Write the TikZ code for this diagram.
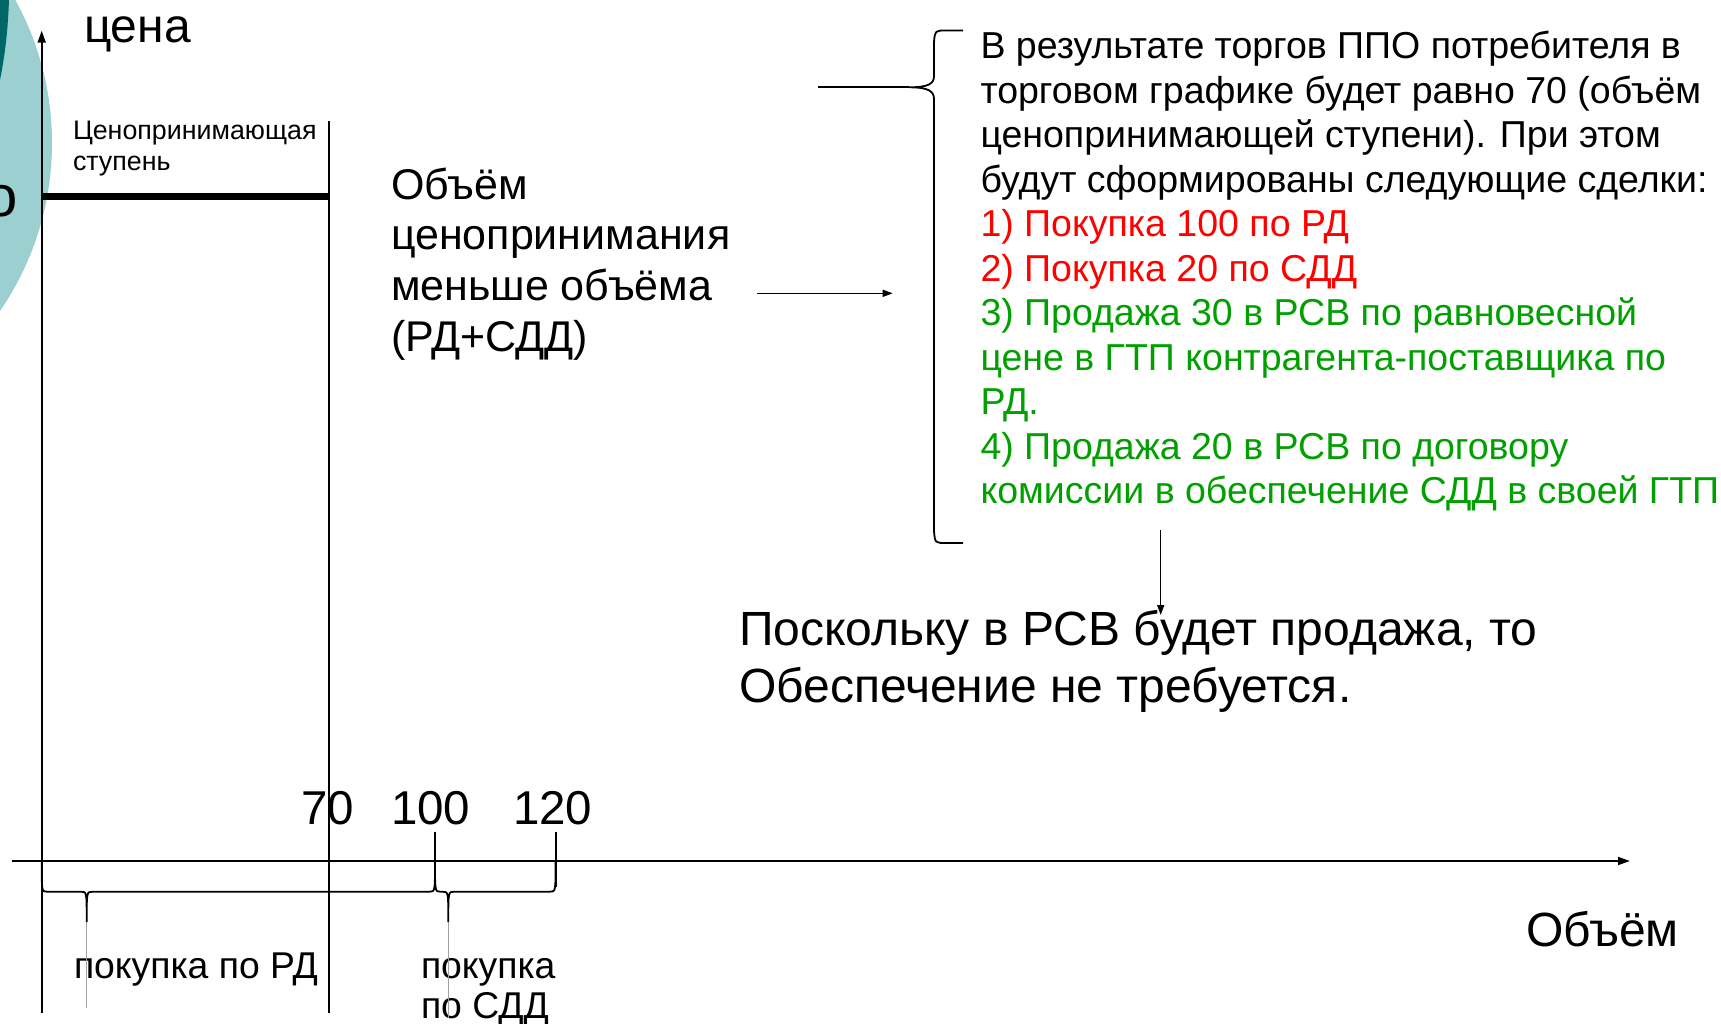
\documentclass[tikz,border=0pt]{standalone}
\usepackage{fontspec}
\setmainfont{Liberation Sans}
\usetikzlibrary{arrows.meta}
\definecolor{tealL}{RGB}{156,207,207}
\definecolor{tealD}{RGB}{0,102,102}
\definecolor{redT}{RGB}{255,0,0}
\definecolor{greenT}{RGB}{0,160,0}
\definecolor{tipgray}{RGB}{160,160,160}
\newcommand\FS[2]{\fontsize{#1}{#2}\selectfont}
\begin{document}
\begin{tikzpicture}[x=1pt,y=-1pt,
  txt/.style={anchor=base west,inner sep=0pt,outer sep=0pt},
  rule/.style={line width=1.8pt,black},
  arr/.style={-{Triangle[length=10pt,width=7pt]}},
  axarr/.style={-{Triangle[length=12pt,width=8pt]}},
  brace/.style={line width=1.8pt,line join=round},
  tipline/.style={line width=1.1pt,tipgray}]
\useasboundingbox (0,0) rectangle (1721,1023);
\fill[white] (0,0) rectangle (1721,1023);
% decorative circles at the left edge
\begin{scope}
\clip (0,0) rectangle (1721,1023);
\fill[tealL] (-245,143) circle[radius=297];
\fill[tealD] (0,-1) -- (9,-1) .. controls (8,30) and (5,55) .. (0,80) -- cycle;
\end{scope}
% coordinates
\coordinate (yb) at (41.7,1012.7);
\coordinate (yt) at (41.7,30.7);
\coordinate (xl) at (11.7,861);
\coordinate (xr) at (1630,861);
\coordinate (stepL) at (41.7,196.3);
\coordinate (stepR) at (329,196.3);
\coordinate (v70t) at (329,121);
\coordinate (v70b) at (329,1012.7);
\coordinate (t100t) at (435,831.7);
\coordinate (t100b) at (435,861);
\coordinate (t120t) at (555.6,831.7);
\coordinate (t120b) at (555.6,887);
\coordinate (tipA) at (86.7,921.7);
\coordinate (tipAe) at (86.7,1008);
\coordinate (tipB) at (448.3,921.7);
\coordinate (tipBe) at (448.3,1018);
\coordinate (cusp) at (909,87.3);
\coordinate (lineL) at (818,87.3);
\coordinate (a1s) at (757,293.3);
\coordinate (a1e) at (892.7,293.3);
\coordinate (a2s) at (1160.7,530);
\coordinate (a2e) at (1160.7,615);
% texts
\node[txt] (cena) at (84,42.5) {\FS{48}{56}цена};
\node[txt,anchor=base east] (oleft) at (17.5,216) {\FS{58}{70}о};
\node[txt] (stuplbl) at (73,139.5) {\FS{26.8}{30.5}\vtop{\hbox{Ценопринимающая}\hbox{ступень}}};
\node[txt] (vollbl) at (391,199) {\FS{43}{50.7}\vtop{\hbox{Объём}\hbox{ценопринимания}\hbox{меньше объёма}\hbox{(РД+СДД)}}};
\node[txt] (res) at (980.5,58.8) {\FS{37.5}{44.5}\vtop{%
\hbox{В результате торгов ППО потребителя в}%
\hbox{торговом графике будет равно 70 (объём}%
\hbox{ценопринимающей ступени). При этом}%
\hbox{будут сформированы следующие сделки:}%
\hbox{\color{redT}1) Покупка 100 по РД}%
\hbox{\color{redT}2) Покупка 20 по СДД}%
\hbox{\color{greenT}3) Продажа 30 в РСВ по равновесной}%
\hbox{\color{greenT}цене в ГТП контрагента-поставщика по}%
\hbox{\color{greenT}РД.}%
\hbox{\color{greenT}4) Продажа 20 в РСВ по договору}%
\hbox{\color{greenT}комиссии в обеспечение СДД в своей ГТП}}};
\node[txt] (since) at (739,645) {\FS{48}{57.7}\vtop{\hbox{Поскольку в РСВ будет продажа, то}\hbox{Обеспечение не требуется.}}};
\node[txt] (n70) at (301.5,824) {\FS{47.5}{56}70};
\node[txt] (n100) at (391,824) {\FS{47.5}{56}100};
\node[txt] (n120) at (513,824) {\FS{47.5}{56}120};
\node[txt] (rdlbl) at (74,978.3) {\FS{37.3}{41}покупка по РД};
\node[txt] (sddlbl) at (421,978.3) {\FS{37.3}{40}\vtop{\hbox{покупка}\hbox{по СДД}}};
\node[txt] (vol) at (1526,946.7) {\FS{48}{56}Объём};
% axes
\draw[rule,axarr] (yb) -- (yt);
\draw[rule,axarr] (xl) -- (xr);
% price-taking step and volume line
\draw[line width=7.3pt] (stepL) -- (stepR);
\draw[rule] (v70t) -- (v70b);
\draw[rule] (t100t) -- (t100b);
\draw[rule] (t120t) -- (t120b);
% lower braces
\draw[brace] (41.7,861) .. controls (41.7,891.7) .. (47,891.7) -- (81,891.7)
  .. controls (86.7,891.7) .. (tipA) .. controls (86.7,891.7) .. (92.4,891.7)
  -- (429.5,891.7) .. controls (435,891.7) .. (t100b);
\draw[brace] (t100b) .. controls (435,891.7) .. (440.5,891.7) -- (442.6,891.7)
  .. controls (448.3,891.7) .. (tipB) .. controls (448.3,891.7) .. (454,891.7)
  -- (550,891.7) .. controls (555.6,891.7) .. (555.6,861);
\draw[tipline] (tipA) -- (tipAe);
\draw[tipline] (tipB) -- (tipBe);
% big brace
\draw[brace] (963,30.5) -- (946,30.5) .. controls (935,30.5) .. (934,42) -- (934,76)
  .. controls (934,84) and (928,87.3) .. (cusp) .. controls (928,87.3) and (934,91) .. (934,99)
  -- (934,531) .. controls (935,543) .. (946,543) -- (963,543);
\draw[rule] (lineL) -- (cusp);
% arrows
\draw[line width=1.5pt,arr] (a1s) -- (a1e);
\draw[line width=1.5pt,arr] (a2s) -- (a2e);
\end{tikzpicture}
\end{document}
